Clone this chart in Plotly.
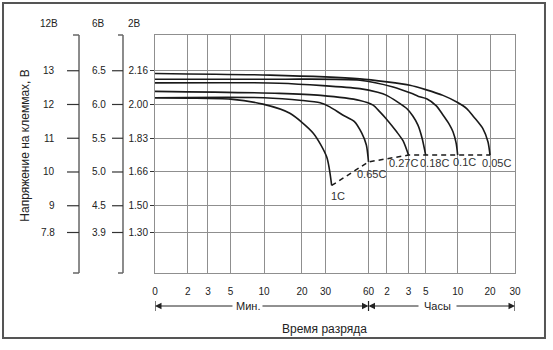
import numpy as np
import plotly.graph_objects as go

# --- discharge time scale (minutes) and its tick labels ---
tick_minutes = [0, 2, 3, 5, 10, 20, 30, 60, 120, 180, 300, 600, 1200, 1800]
tick_labels = ["0", "2", "3", "5", "10", "20", "30", "60", "2", "3", "5", "10", "20", "30"]

# --- voltage tick labels for 12 V, 6 V and 2 V (per cell) batteries ---
v12_labels = ["13", "12", "11", "10", "9", "7.8"]
v6_labels = ["6.5", "6.0", "5.5", "5.0", "4.5", "3.9"]
v2_labels = ["2.16", "2.00", "1.83", "1.66", "1.50", "1.30"]
v12_values = [13, 12, 11, 10, 9, 7.8]

# --- discharge curves: time in minutes, terminal voltage of a 12 V block ---
rate_names = ["1C", "0.65C", "0.27C", "0.18C", "0.1C", "0.05C"]

t_1c = [0, 2, 5, 9.85, 16.8, 24.8, 30.8, 34.3]
v_1c = [12.20, 12.19, 12.16, 12.01, 11.74, 11.15, 10.45, 9.6]

t_065c = [0, 10, 20, 27.7, 33, 42, 50, 55.3, 58.5, 60]
v_065c = [12.20, 12.20, 12.12, 12.05, 11.93, 11.69, 11.50, 11.15, 10.80, 10.3]

t_027c = [0, 14, 28, 54, 75, 97, 120, 147, 165, 180]
v_027c = [12.39, 12.33, 12.27, 12.12, 11.98, 11.78, 11.55, 11.19, 10.92, 10.5]

t_018c = [0, 14, 54, 90, 119, 150, 175, 210, 246, 275, 300]
v_018c = [12.64, 12.63, 12.47, 12.36, 12.27, 12.07, 11.88, 11.66, 11.39, 11.0, 10.5]

t_01c = [0, 14, 54, 137, 200, 250, 309, 400, 462, 520, 556, 585, 600]
v_01c = [12.75, 12.75, 12.72, 12.52, 12.33, 12.24, 12.17, 11.96, 11.69, 11.42, 11.19, 10.86, 10.5]

t_005c = [0, 11.6, 54, 120, 190, 300, 462, 600, 767, 900, 1070, 1163, 1200]
v_005c = [12.92, 12.87, 12.76, 12.67, 12.57, 12.44, 12.27, 12.06, 11.88, 11.63, 11.28, 10.89, 10.5]

curves = [(t_1c, v_1c), (t_065c, v_065c), (t_027c, v_027c),
          (t_018c, v_018c), (t_01c, v_01c), (t_005c, v_005c)]

# Non-uniform time axis: each tick sits at a fixed fraction of the width,
# time is interpolated linearly between neighbouring ticks.
tick_pos = [0, 0.0908, 0.1472, 0.2097, 0.3028, 0.4083, 0.4736,
            0.5931, 0.6444, 0.7042, 0.7519, 0.8408, 0.9306, 1.0]


def time_to_x(t):
    return np.interp(t, tick_minutes, tick_pos)


# Voltage axis in 12 V units; the lowest tick sits after an axis break.
axis_break = 8.207
ytick_pos = [float(v) for v in v12_values[:-1]] + [axis_break]
y_range = [7.007, 14.059]

FONT = "Liberation Sans, Arial, sans-serif"
TXT = "#222222"
GRID = "#8f8f8f"


def text_note(x, y, text, size=10, xref="paper", yref="paper", xanchor="center", **kw):
    return dict(x=x, y=y, xref=xref, yref=yref, text=text, showarrow=False,
                xanchor=xanchor, yanchor="middle",
                font=dict(family=FONT, size=size, color=kw.pop("color", TXT)), **kw)


fig = go.Figure()

for (t, v) in curves:
    fig.add_trace(go.Scatter(
        x=time_to_x(t), y=v, mode="lines",
        line=dict(color="#1a1a1a", width=1.6, shape="spline", smoothing=0.7),
        hoverinfo="skip"))

# end-of-discharge line through the last point of every curve
end_t = [c[0][-1] for c in curves]
end_v = [c[1][-1] for c in curves]
fig.add_trace(go.Scatter(
    x=time_to_x(end_t), y=end_v, mode="lines",
    line=dict(color="#1a1a1a", width=1.5, dash="5px,4px"),
    hoverinfo="skip"))

annotations = []

# rate labels next to the end points
label_shift = [(6, -11), (3, -12), (-5, -8), (9, -8), (7, -7), (6, -8)]
for name, et, ev, (dx, dy) in zip(rate_names, end_t, end_v, label_shift):
    annotations.append(text_note(float(time_to_x(et)), ev, name, size=11,
                                 xref="x", yref="y", xshift=dx, yshift=dy,
                                 color="#333333"))

# extra voltage scales for 12 V and 6 V batteries
scales = [
    dict(labels=v12_labels, line_x=-0.2111, tick_x0=-0.2444, cap_x0=-0.2278, text_x=-0.2722,
         head="12В", head_x=-0.2931),
    dict(labels=v6_labels, line_x=-0.0889, tick_x0=-0.1194, cap_x0=-0.1028, text_x=-0.1306,
         head="6В", head_x=-0.1569),
]
shapes = []
AX = "#666666"
for s in scales:
    shapes.append(dict(type="line", xref="paper", yref="paper",
                       x0=s["line_x"], x1=s["line_x"], y0=0, y1=1,
                       line=dict(color=AX, width=1.5)))
    for yy in (0, 1):
        shapes.append(dict(type="line", xref="paper", yref="paper",
                           x0=s["cap_x0"], x1=s["line_x"], y0=yy, y1=yy,
                           line=dict(color=AX, width=1.5)))
    for lab, yp in zip(s["labels"], ytick_pos):
        shapes.append(dict(type="line", xref="paper", yref="y",
                           x0=s["tick_x0"], x1=s["line_x"], y0=yp, y1=yp,
                           line=dict(color="#333333", width=1.2)))
        annotations.append(text_note(s["text_x"], yp, lab, yref="y", xanchor="right"))
    annotations.append(text_note(s["head_x"], 1.0504, s["head"]))

annotations.append(text_note(-0.0583, 1.0504, "2В"))

# y title
annotations.append(text_note(-0.361, 0.535, "Напряжение на клеммах, В", size=12,
                             textangle=-90))

# minutes / hours span arrows under the time axis
row_y = -0.1387
x60 = float(time_to_x(60))
arrows = [(0.0, 0.2194), (x60, 0.2944), (x60, 0.7361), (1.0, 0.8333)]
for head, tail in arrows:
    annotations.append(dict(x=head, y=row_y, xref="x", yref="paper",
                            ax=tail, ay=0, axref="x", ayref="pixel",
                            text="", showarrow=True, arrowhead=2, arrowsize=1.3,
                            arrowwidth=1, arrowcolor="#222222", standoff=0))
for bx in (0.0, x60, 1.0):
    shapes.append(dict(type="line", xref="x", yref="paper",
                       x0=bx, x1=bx, y0=row_y - 0.021, y1=row_y + 0.021,
                       line=dict(color="#222222", width=1.2)))
annotations.append(text_note(0.2575, row_y, "Мин.", size=11))
annotations.append(text_note(0.785, row_y, "Часы", size=11))
annotations.append(text_note(0.4722, -0.2353, "Время разряда", size=12))

# outer frame
shapes.append(dict(type="rect", xref="paper", yref="paper",
                   x0=-0.4222, x1=1.0833, y0=-0.2731, y1=1.1345,
                   line=dict(color="#555555", width=2), layer="below"))

fig.update_layout(
    width=553, height=350,
    margin=dict(l=155, r=38, t=35, b=77, pad=0),
    paper_bgcolor="white", plot_bgcolor="white",
    showlegend=False,
    font=dict(family=FONT, size=10, color=TXT),
    xaxis=dict(range=[0, 1], tickvals=tick_pos, ticktext=tick_labels,
               showgrid=True, gridcolor=GRID, gridwidth=1,
               showline=True, linecolor=GRID, linewidth=1, mirror=True,
               zeroline=False, ticks="", ticklabelstandoff=9,
               tickfont=dict(family=FONT, size=10, color=TXT), fixedrange=True),
    yaxis=dict(range=y_range, tickvals=ytick_pos, ticktext=v2_labels,
               showgrid=True, gridcolor=GRID, gridwidth=1,
               showline=True, linecolor=GRID, linewidth=1, mirror=True,
               zeroline=False, ticks="outside", ticklen=4, tickcolor="#333333",
               tickfont=dict(family=FONT, size=10, color=TXT), fixedrange=True),
    shapes=shapes, annotations=annotations,
)

fig.write_html("out.html")
